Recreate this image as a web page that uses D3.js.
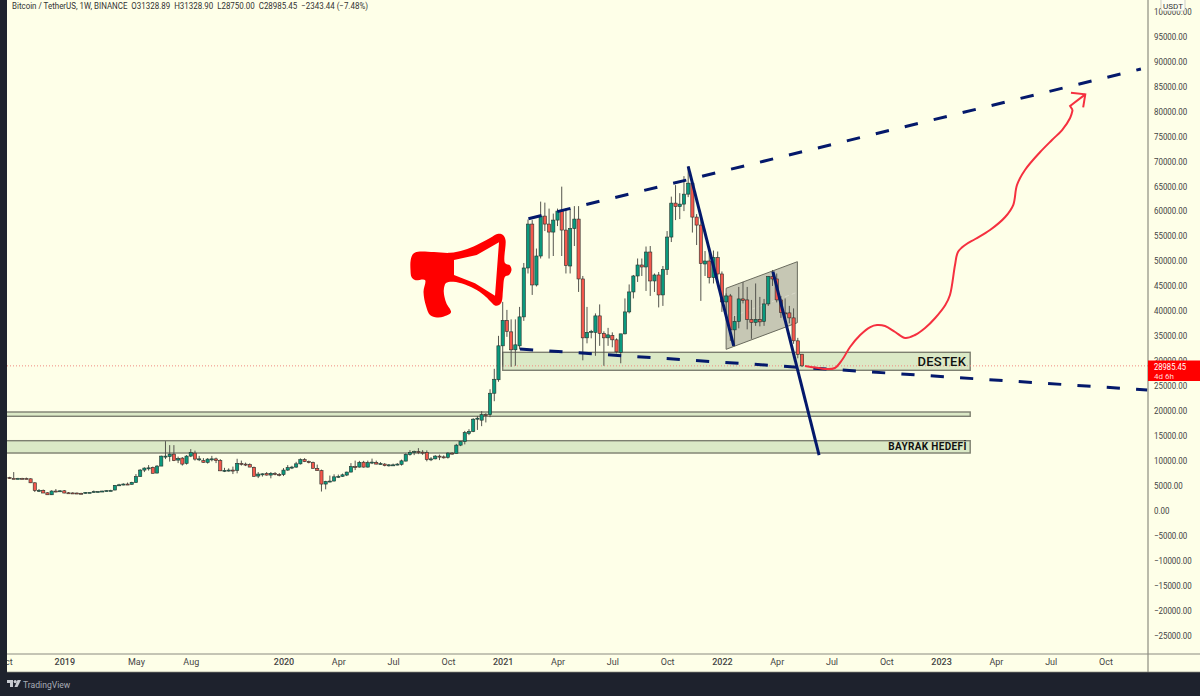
<!DOCTYPE html>
<html><head><meta charset="utf-8">
<script src="https://cdn.jsdelivr.net/npm/d3@7"></script>
<style>html,body{margin:0;padding:0;background:#1e222d;overflow:hidden}svg{display:block}</style>
</head><body><svg id="c" width="1200" height="696"></svg>
<script>
// Weekly candles: index 0 = week of 2018-10-08, index 188 = week of 2022-05-16
const opens=[6600,6450,6420,6430,6420,6350,5550,4000,4050,3550,
3150,3900,3850,3950,3550,3520,3500,3450,3450,3630,
3650,3800,3800,3900,3980,4100,5050,5150,5300,5250,
5600,6800,8100,8500,8650,7500,8900,10850,10800,11300,
10100,10500,9450,10900,11500,10300,10000,9650,10300,10350,
10000,7950,8050,8100,8050,9450,9300,9200,8650,6900,
7300,7400,7100,7400,7250,7200,8100,8600,8700,9350,
10200,9800,9600,8450,8000,5300,5800,5900,6750,6850,
7100,7700,8800,8700,9680,8700,9600,9650,9300,9300,
9050,9100,9150,9250,9900,11200,11600,11800,11700,11650,
10200,10350,10900,10750,10650,11500,11450,13100,13800,15450,
15850,18400,18100,19200,19200,23500,26200,33000,38100,35800,
32200,33000,38800,48600,57400,45200,51000,59000,57400,55800,
58200,60000,56200,49000,56500,58400,46400,34600,35750,35700,
39000,35500,34600,35100,34200,31700,35400,39800,43800,47000,
49200,48800,51800,46000,47200,43200,48300,54800,61600,60900,
61400,63400,65600,58800,57200,49400,50000,46700,50700,47400,
41800,43000,36200,37900,42400,42200,38300,37700,38300,37900,
41400,46900,46400,42200,39600,39600,38600,34000,31328.89];
const highs=[6750,7700,6550,6550,6600,6450,5650,4300,4200,3650,
4050,4300,4050,4100,3700,3650,3600,3550,3700,3680,
4000,3900,3950,4050,4150,5100,5350,5450,5600,5750,
7300,8300,8650,9100,8800,9100,11000,13900,13100,13100,
10800,10700,11100,12300,12000,10950,10500,10500,10950,10600,
10300,8550,8450,8800,10370,10000,9600,9450,8800,7700,
7450,7700,7700,7700,7500,8500,9100,8950,9750,10450,
10500,10000,9800,9200,8200,5950,7000,7250,7200,7400,
7780,9500,10000,9950,9950,10000,10400,10000,9700,9500,
9300,9400,9500,10200,11450,12100,12000,12500,12100,12050,
10700,11100,11200,11050,11700,11700,13350,13850,15950,16300,
18500,18950,19900,19500,24300,28400,35000,41800,40200,38300,
38300,40800,49600,58300,58200,52500,61900,61700,60500,59500,
60500,64900,60500,60400,61000,61000,47000,40800,36200,39500,
41300,35900,36600,35700,34500,35400,42500,45300,47200,50500,
50500,52900,53000,47500,47800,49000,56000,62900,65200,63600,
67000,69000,66300,59400,59000,52000,51500,52100,51900,47900,
43500,43400,39000,44800,45800,44800,42200,45500,42800,42400,
47000,48200,47500,43000,42500,41000,40500,34600,31328.9];
const lows=[6350,6400,6350,6350,6300,5500,3700,3700,3500,3150,
3100,3650,3700,3450,3450,3450,3400,3350,3400,3570,
3600,3700,3750,3850,3900,4050,4900,5050,5150,5200,
5600,6800,7700,8000,7450,7450,8900,10300,9800,9900,
9500,9000,9200,10700,10000,9900,9600,9400,9850,9500,
7900,7700,7800,7300,7450,9000,8900,8700,6800,6500,
6800,7000,6450,7050,6850,6900,7950,8300,8550,9200,
9700,9450,8450,8000,3800,4240,5650,5850,6550,6750,
6900,7650,8100,8600,8600,8600,9300,9250,9200,8850,
8800,8950,9050,9000,9850,11000,11100,11300,11150,9850,
9900,10250,10100,10400,10400,11200,11400,12900,13250,15100,
15700,16150,16900,17650,18700,21900,25800,28800,34800,28800,
29000,32300,38000,47500,43200,44900,50500,56000,50500,51000,
57000,51000,47500,47500,53000,43800,30100,33500,34500,31000,
33000,29000,33000,32700,31500,29500,35300,39500,42500,45800,
47000,44000,43000,43800,40700,41000,47200,53800,58200,58400,
60000,62800,55700,53200,42000,47000,45500,45500,45000,39800,
39600,34000,32900,36500,41500,36300,34400,37000,36900,37000,
41000,45000,41700,38600,38500,37500,33400,30500,28750];
const closes=[6450,6400,6430,6400,6350,5550,4000,4050,3500,3150,
3900,3850,3950,3500,3520,3500,3450,3400,3630,3640,
3800,3800,3900,3980,4020,5050,5150,5300,5250,5650,
6800,8100,8500,8550,7450,8900,10900,10900,11300,10000,
10400,9300,10900,11600,10300,10350,9650,10300,10350,10000,
7950,8050,8100,7950,9450,9300,9250,8700,6850,7300,
7350,7100,7450,7250,7200,8100,8600,8700,9350,10200,
9800,9600,8450,8000,5300,5800,5900,6750,6850,7150,
7700,8800,8700,9650,8700,9600,9700,9300,9400,9000,
9150,9150,9300,9950,11250,11600,11800,11700,11650,10200,
10350,10900,10750,10700,11500,11450,13100,13800,15600,15850,
18300,18500,19200,19150,23500,26300,33000,38100,35900,32200,
33200,38800,48600,57400,45200,51000,59000,57400,55800,58200,
60000,56200,49100,56500,58400,46400,34600,35700,35900,39000,
35500,34600,35200,34200,31800,35400,39800,43800,47000,49200,
48800,51800,46000,47200,43200,48300,54800,61600,60900,61400,
63400,65600,58800,57200,49500,50000,46700,50700,47400,41800,
43000,36200,37900,42400,42100,38300,37700,38300,37800,41400,
46900,46400,42200,39700,39400,38600,34000,31300,28985.45];

const priceTicks=[100000,95000,90000,85000,80000,75000,70000,65000,60000,55000,50000,45000,40000,35000,30000,25000,20000,15000,10000,5000,0,-5000,-10000,-15000,-20000,-25000];
const timeTickWeeks=[-1,13,30,43,65,78,91,104,117,130,143,156,169,182,195,208,221,234,247,260];
const timeTickLabels=["Oct","2019","May","Aug","2020","Apr","Jul","Oct","2021","Apr","Jul","Oct","2022","Apr","Jul","Oct","2023","Apr","Jul","Oct"];

// Annotations, as [week index, price]
const upperTrend=[[123.1,58480],[268.4,88480]];
const lowerTrend=[[121.1,32360],[269.9,24150]];
const drop1=[[161,68940],[171.8,32970]];
const drop2=[[181.1,47850],[192.05,11120]];
const flagCorners=[[170,44530],[186.9,49860],[186.9,37640],[170,32300]];
const flagMid=[[170,38415],[186.9,43750]];
const zoneWeeks=[-3,227.9];
const zones=[{top:31700,bottom:28100,from:117},{top:19740,bottom:18880,from:-3},{top:13990,bottom:11520,from:-3}];
const forecast=[[188.7,28950],[191.1,28660],[193.5,28360],[195.8,28560],[197.5,30160],[199.4,32760],[201.8,35170],[204.2,36770],[205.8,37170],[207.7,36970],[210.1,35770],[212.5,34570],[214.8,35170],[217.2,36570],[219.6,38580],[222,41180],[223.1,43190],[224.3,49200],[225,51800],[226.7,53210],[229.1,54410],[232.6,56210],[236.2,58820],[238.1,61220],[239,65230],[240.9,68240],[244.5,71840],[247.3,74250],[249.7,76250],[251.6,78660],[252.2,80260]];
const arrowShaft=[[252.2,80260],[251.6,81060],[255.2,83400]];
const arrowHead=[[251.8,83730],[255.2,83400],[254.7,80800]];
const megaphoneOuter=[[410.7,260],[413,254],[418,251.7],[434,252],[450,252.8],[464,250],[476.7,245],[490,238],[498.3,233.8],[503,235],[505.5,240],[505,263],[510,265.5],[511.5,270],[509,275],[505,276.7],[503,290],[501.7,301.7],[499,305],[495.5,305.7],[486,297],[476.7,290],[465,284.5],[453.3,281.7],[446,283],[443.8,290],[444.5,297],[446.5,303.5],[451,312.3],[444,316.5],[437,317.5],[430,315],[426,306],[423.5,292],[425,280],[415,280],[411.5,277],[410.5,270]];
const megaphoneInner=[[454,260],[476.7,255],[499,242.3],[495,295.7],[475,283.3],[454,275]];

const lastPrice=closes[closes.length-1];
const FONT="Roboto, 'Liberation Sans', sans-serif";
const svg=d3.select("#c");
const x=d3.scaleLinear().domain([0,188]).range([9.5,802]);
const y=d3.scaleLinear().domain([0,100000]).range([510.5,11.5]);
const W=1200,H=696,L=7,R=1148,B=654,F=672;
const BG="#feffe8";

svg.append("rect").attr("width",W).attr("height",H).attr("fill","#1e222d");
svg.append("rect").attr("x",L).attr("width",W-L).attr("height",F).attr("fill",BG);
const defs=svg.append("defs");
defs.append("clipPath").attr("id","plot").append("rect").attr("x",L).attr("y",0).attr("width",R-L).attr("height",B);
const plot=svg.append("g").attr("clip-path","url(#plot)");
const pt=d3.line().x(d=>x(d[0])).y(d=>y(d[1]));

// Zones
plot.selectAll(".z").data(zones).join("rect").attr("class","z")
 .attr("x",d=>x(d.from)).attr("width",d=>x(zoneWeeks[1])-x(d.from))
 .attr("y",d=>y(d.top)).attr("height",d=>y(d.bottom)-y(d.top))
 .attr("fill","#dbe9c6").attr("stroke","#7d7f70").attr("stroke-width",1.4);

// Flag
plot.append("path").attr("d",pt(flagCorners)+"Z").attr("fill","#c6c7b4").attr("stroke","#6a6b5e").attr("stroke-width",1);
plot.append("path").attr("d",pt(flagMid)).attr("fill","none").attr("stroke","#d8d8c8").attr("stroke-width",1).attr("stroke-dasharray","4 3");

// Last price line
plot.append("line").attr("x1",L).attr("x2",R).attr("y1",y(lastPrice)).attr("y2",y(lastPrice))
 .attr("stroke","#f08a80").attr("stroke-width",1).attr("stroke-dasharray","1 2");

// Candles
const idx=d3.range(opens.length);
plot.selectAll(".w").data(idx).join("line").attr("class","w")
 .attr("x1",i=>x(i)).attr("x2",i=>x(i)).attr("y1",i=>y(highs[i])).attr("y2",i=>y(lows[i]))
 .attr("stroke","#55554e").attr("stroke-width",1);
plot.selectAll(".b").data(idx).join("rect").attr("class","b")
 .attr("x",i=>x(i)-1.6).attr("width",3.2)
 .attr("y",i=>y(Math.max(opens[i],closes[i])))
 .attr("height",i=>Math.max(1,Math.abs(y(opens[i])-y(closes[i]))))
 .attr("fill",i=>closes[i]>=opens[i]?"#0a9a7e":"#f4574c")
 .attr("stroke","#26302c").attr("stroke-width",.6);

// Trend lines
plot.append("path").attr("d",pt(upperTrend)).attr("fill","none")
 .attr("stroke","#04196b").attr("stroke-width",3).attr("stroke-dasharray","13.5 16.3");
plot.append("path").attr("d",pt(lowerTrend)).attr("fill","none")
 .attr("stroke","#04196b").attr("stroke-width",3).attr("stroke-dasharray","13.2 16.2");
[drop1,drop2].forEach(l=>plot.append("path").attr("d",pt(l)).attr("fill","none")
 .attr("stroke","#04196b").attr("stroke-width",3));

// Forecast
const smooth=d3.line().x(d=>x(d[0])).y(d=>y(d[1])).curve(d3.curveCatmullRom.alpha(.5));
plot.append("path").attr("d",smooth(forecast)).attr("fill","none").attr("stroke","#f5303f").attr("stroke-width",2);
[arrowShaft,arrowHead].forEach(l=>plot.append("path").attr("d",pt(l)).attr("fill","none").attr("stroke","#f5303f").attr("stroke-width",2));

// Megaphone
const mp=d3.line().curve(d3.curveCatmullRomClosed.alpha(.5));
const mpS=d3.line().curve(d3.curveLinearClosed);
plot.append("path").attr("fill-rule","evenodd").attr("fill","#ff0000")
 .attr("d",mp(megaphoneOuter)+mpS(megaphoneInner));

// Zone labels
plot.append("text").attr("x",x(zoneWeeks[1])-4).attr("y",y(29900)).attr("dy","0.36em").attr("text-anchor","end")
 .attr("font-family",FONT).attr("font-weight",500).attr("font-size",13).attr("letter-spacing",.25).attr("fill","#111").text("DESTEK");
plot.append("text").attr("x",x(zoneWeeks[1])-3.5).attr("y",y(12750)).attr("dy","0.36em").attr("text-anchor","end")
 .attr("font-family",FONT).attr("font-weight",700).attr("font-size",10).attr("letter-spacing",.35).attr("fill","#111").text("BAYRAK HEDEFİ");

// Axis frames
svg.append("line").attr("x1",R).attr("x2",R).attr("y1",0).attr("y2",F).attr("stroke","#77776d").attr("stroke-width",1);
svg.append("line").attr("x1",L).attr("x2",W).attr("y1",B).attr("y2",B).attr("stroke","#8a8a80").attr("stroke-width",1);
svg.append("line").attr("x1",L).attr("x2",W).attr("y1",F).attr("y2",F).attr("stroke","#8a8a80").attr("stroke-width",.7);

// Price axis: tall, slightly condensed digits as in the reference
const ay=d3.axisRight(y).tickValues(priceTicks).tickSize(0).tickPadding(0).tickFormat(d3.format(".2f"));
const gy=svg.append("g").attr("transform",`translate(1154,0)`).call(ay);
gy.select(".domain").remove();
gy.selectAll("text").attr("font-family",FONT).attr("font-size",9).attr("fill","#444")
 .attr("x",0).attr("transform","scale(.88,1)");

// Time axis
const ax=d3.axisBottom(x).tickValues(timeTickWeeks).tickSize(0).tickPadding(0).tickFormat((d,i)=>timeTickLabels[i]);
const gx=svg.append("g").attr("transform",`translate(0,${B+5})`).call(ax);
gx.select(".domain").remove();
gx.selectAll("text").attr("font-family",FONT).attr("font-size",9).attr("fill","#444")
 .attr("font-weight",(d,i)=>/^20/.test(timeTickLabels[i])?500:400);
svg.append("rect").attr("width",L).attr("height",H).attr("fill","#1e222d");

// USDT badge
svg.append("rect").attr("x",1161).attr("y",-3).attr("width",24).attr("height",14).attr("rx",2).attr("fill","#fefff2").attr("stroke","#bbb").attr("stroke-width",.7);
svg.append("text").attr("x",1173).attr("y",8.5).attr("text-anchor","middle").attr("font-family",FONT).attr("font-size",8).attr("fill","#333").text("USDT");

// Last price tag
svg.append("rect").attr("x",R).attr("y",360.5).attr("width",W-R).attr("height",20.5).attr("fill","#ff0000");
svg.append("text").attr("x",1154).attr("y",369.5).attr("font-family",FONT).attr("font-size",9).attr("fill","#fff")
 .attr("textLength",32).attr("lengthAdjust","spacingAndGlyphs").text(d3.format(".2f")(lastPrice));
svg.append("text").attr("x",1154).attr("y",378.5).attr("font-family",FONT).attr("font-size",8).attr("fill","#ffd9d9").text("4d 6h");

// Header
svg.append("text").attr("x",12).attr("y",9).attr("font-family",FONT).attr("font-size",8.6).attr("fill","#333").attr("xml:space","preserve")
 .attr("textLength",356).attr("lengthAdjust","spacingAndGlyphs")
 .text("Bitcoin / TetherUS, 1W, BINANCE  O31328.89  H31328.90  L28750.00  C28985.45  −2343.44 (−7.48%)");

// Footer brand
const logo=svg.append("g").attr("transform","translate(7,680)").attr("fill","#c8cad0");
logo.append("path").attr("d","M0 0H6V7H3V3H0Z");
logo.append("circle").attr("cx",8.2).attr("cy",1.6).attr("r",1.6);
logo.append("path").attr("d","M10.5 0H14L10.5 7H7.5Z");
svg.append("text").attr("x",23).attr("y",687.5).attr("font-family",FONT).attr("font-size",8.6).attr("fill","#a9adb6").text("TradingView");
</script></body></html>
